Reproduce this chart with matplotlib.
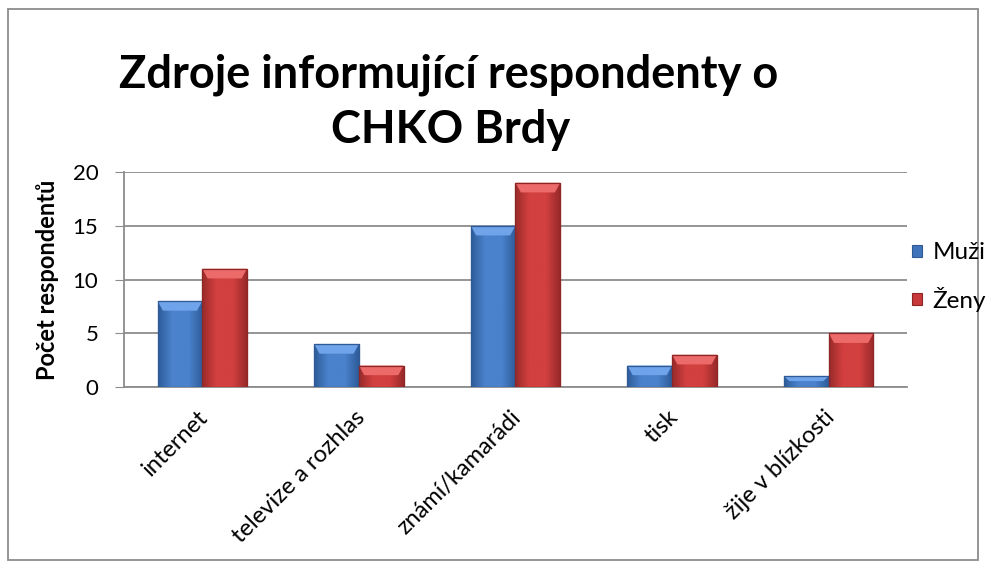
import matplotlib
matplotlib.use("Agg")
import matplotlib.pyplot as plt
import matplotlib.transforms as mtransforms
import numpy as np
from matplotlib.patches import Rectangle, Polygon
from matplotlib.colors import LinearSegmentedColormap

categories = ["internet", "televize a rozhlas", "známí/kamarádi", "tisk", "žije v blízkosti"]
muzi = [8, 4, 15, 2, 1]
zeny = [11, 2, 19, 3, 5]
series_names = ["Muži", "Ženy"]
yticks = [0, 5, 10, 15, 20]

W, H = 987, 568
plt.rcParams['font.family'] = ['Lato', 'DejaVu Sans']
fig = plt.figure(figsize=(W/100, H/100), dpi=100)

ax = fig.add_axes([124/W, 1-387/H, (907-124)/W, (387-172)/H])
x = np.arange(len(categories))
w = 2/7
c_blue, c_red = "#3F74BC", "#C8393A"
e_blue, e_red = "#2F5A94", "#8E2626"
b1 = ax.bar(x - w/2, muzi, w, color=c_blue, edgecolor=e_blue, linewidth=0.8, label=series_names[0], zorder=3)
b2 = ax.bar(x + w/2, zeny, w, color=c_red, edgecolor=e_red, linewidth=0.8, label=series_names[1], zorder=3)

ax.set_xlim(-0.5, len(categories)-0.5)
ax.set_ylim(0, 20)

# bevel / gradient decoration derived from bar geometry
styles = {
    0: dict(dark="#2E5C9A", mid="#4A82CC", light="#6FA3EA", edge=e_blue),
    1: dict(dark="#9A2A2A", mid="#D2403F", light="#EC6A6A", edge=e_red),
}
grad = np.linspace(0, 1, 64)
prof = 1 - np.abs(grad - 0.5) * 2
prof = np.clip(prof * 1.6, 0, 1)[None, :]
for si, bars in enumerate((b1, b2)):
    st = styles[si]
    cmap = LinearSegmentedColormap.from_list("g", [st["dark"], st["mid"]])
    for b in bars:
        x0, bw, hgt = b.get_x(), b.get_width(), b.get_height()
        im = ax.imshow(prof, extent=(x0, x0+bw, 0, hgt), aspect="auto", cmap=cmap, zorder=3.5,
                       interpolation="bilinear")
        im.set_clip_path(b)
        dx = bw * 0.12
        dy = min(0.9, hgt * 0.45)
        ax.add_patch(Polygon([(x0, hgt), (x0+bw, hgt), (x0+bw-dx, hgt-dy), (x0+dx, hgt-dy)],
                             closed=True, facecolor=st["light"], edgecolor="none", zorder=4))
        ax.add_patch(Rectangle((x0, 0), bw, hgt, fill=False, edgecolor=st["edge"], linewidth=0.9, zorder=5))

ax.set_yticks(yticks)
ax.yaxis.grid(True, color="#8C8C8C", linewidth=1.3, zorder=0)
ax.set_axisbelow(True)
for s in ["top", "right"]:
    ax.spines[s].set_visible(False)
for s in ["left", "bottom"]:
    ax.spines[s].set_color("#8C8C8C")
    ax.spines[s].set_linewidth(1.3)
ax.tick_params(axis="y", length=6.5, color="#8C8C8C", labelsize=16, pad=12)
ax.tick_params(axis="x", length=0, labelsize=17, pad=14)
ax.set_xticks(x)
ax.set_xticklabels(categories, rotation=45, ha="right", rotation_mode="anchor")
shift = mtransforms.ScaledTranslation(-0.05, 0, fig.dpi_scale_trans)
for lbl in ax.get_xticklabels():
    lbl.set_transform(lbl.get_transform() + shift)
ax.set_ylabel("Počet respondentů", fontsize=17, fontweight="bold")
ax.yaxis.set_label_coords((59-124)/783, 0.5)

fig.text(449/W, 1-75/H, "Zdroje informující respondenty o", fontsize=32.5, fontweight="bold", ha="center", va="center")
fig.text(451/W, 1-130/H, "CHKO Brdy", fontsize=32.5, fontweight="bold", ha="center", va="center")

leg = fig.legend(handles=[b1, b2], labels=series_names, loc="center left", bbox_to_anchor=(912/W, 1-277/H),
                 frameon=False, fontsize=17.5, handlelength=0.4, handleheight=0.4, handletextpad=0.45,
                 labelspacing=0.95, borderpad=0, borderaxespad=0)

fig.patches.append(Rectangle((8/W, 8/H), (W-17)/W, (H-17)/H, transform=fig.transFigure, fill=False,
                             edgecolor="#8C8C8C", linewidth=1.3))
fig.savefig("out.png", dpi=100)
